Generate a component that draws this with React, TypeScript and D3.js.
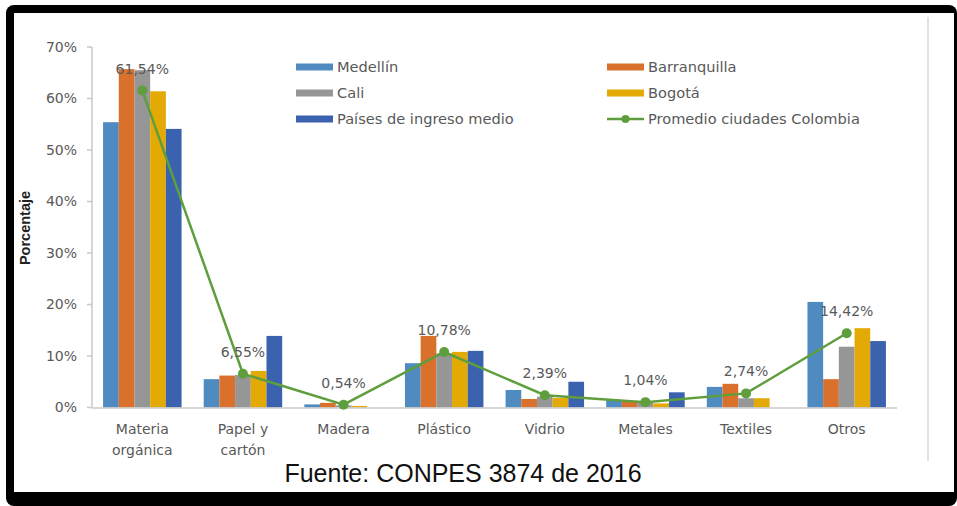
import React, { useEffect, useRef } from "react";
import * as d3 from "d3";

const categories = [
  ["Materia", "orgánica"],
  ["Papel y", "cartón"],
  ["Madera"],
  ["Plástico"],
  ["Vidrio"],
  ["Metales"],
  ["Textiles"],
  ["Otros"],
];

const medellin = [55.4, 5.5, 0.6, 8.6, 3.4, 1.45, 4.0, 20.5];
const barranquilla = [65.7, 6.2, 0.9, 13.9, 1.65, 1.1, 4.6, 5.5];
const cali = [65.5, 6.3, 0.4, 10.5, 2.1, 0.9, 1.8, 11.8];
const bogota = [61.4, 7.1, 0.3, 10.8, 1.85, 0.8, 1.8, 15.4];
const paises = [54.1, 13.9, 0, 11.0, 5.0, 2.95, 0, 12.9];
const promedio = [61.54, 6.55, 0.54, 10.78, 2.39, 1.04, 2.74, 14.42];

const yTicks = [0, 10, 20, 30, 40, 50, 60, 70];

const bars = [
  { name: "Medellín", values: medellin, color: "#4f8bc1" },
  { name: "Barranquilla", values: barranquilla, color: "#d9702b" },
  { name: "Cali", values: cali, color: "#969696" },
  { name: "Bogotá", values: bogota, color: "#e3aa05" },
  { name: "Países de ingreso medio", values: paises, color: "#3b62ae" },
];
const lineName = "Promedio ciudades Colombia";
const lineColor = "#5f9e3c";

const legendOrder = ["Medellín", "Barranquilla", "Cali", "Bogotá", "Países de ingreso medio", lineName];

const App: React.FC = () => {
  const ref = useRef<SVGSVGElement>(null);

  useEffect(() => {
    if (!ref.current) return;
    const svg = d3.select(ref.current);
    svg.selectAll("*").remove();

    const width = 957;
    const height = 506;
    const font = "'DejaVu Sans', sans-serif";
    const textGray = "#595959";

    // frame
    svg.append("rect").attr("width", width).attr("height", height).attr("fill", "#fff");
    svg.append("rect").attr("x", 6).attr("y", 5).attr("width", width - 6).attr("height", height - 5)
      .attr("rx", 8).attr("fill", "#000");
    svg.append("rect").attr("x", 14).attr("y", 13).attr("width", 940).attr("height", 479).attr("fill", "#fff");
    svg.append("line").attr("x1", 928).attr("x2", 928).attr("y1", 17).attr("y2", 461)
      .attr("stroke", "#d9d9d9").attr("stroke-width", 1.5);

    const x0 = d3.scaleBand<number>()
      .domain(d3.range(categories.length))
      .range([92, 897])
      .paddingInner(0.22)
      .paddingOuter(0.11);
    const x1 = d3.scaleBand<number>().domain(d3.range(bars.length)).range([0, x0.bandwidth()]);
    const y = d3.scaleLinear().domain([0, 70]).range([407.5, 47]);

    // y axis
    const yAxis = svg.append("g");
    yAxis.append("line").attr("x1", 92).attr("x2", 92).attr("y1", y(70)).attr("y2", y(0))
      .attr("stroke", "#c8c8c8").attr("stroke-width", 1.5);
    yTicks.forEach((t) => {
      yAxis.append("line").attr("x1", 87).attr("x2", 92).attr("y1", y(t)).attr("y2", y(t))
        .attr("stroke", "#c8c8c8").attr("stroke-width", 1.5);
      yAxis.append("text").attr("x", 77).attr("y", y(t)).attr("dy", "0.35em")
        .attr("text-anchor", "end").attr("font-family", font).attr("font-size", 14)
        .attr("fill", textGray).text(`${t}%`);
    });

    svg.append("text")
      .attr("transform", `translate(30,${228}) rotate(-90)`)
      .attr("text-anchor", "middle").attr("font-family", "'Liberation Sans', Arial, sans-serif")
      .attr("font-size", 14.5).attr("font-weight", "bold").attr("fill", "#222")
      .text("Porcentaje");

    // bars
    bars.forEach((s, si) => {
      svg.append("g").selectAll("rect")
        .data(s.values)
        .enter().append("rect")
        .attr("x", (_d, i) => (x0(i) ?? 0) + (x1(si) ?? 0))
        .attr("y", (d) => y(d))
        .attr("width", x1.bandwidth())
        .attr("height", (d) => y(0) - y(d))
        .attr("fill", s.color);
    });

    // x axis
    svg.append("line").attr("x1", 92).attr("x2", 897).attr("y1", y(0) + 0.5).attr("y2", y(0) + 0.5)
      .attr("stroke", "#c8c8c8").attr("stroke-width", 1.5);
    categories.forEach((lines, i) => {
      const cx = (x0(i) ?? 0) + x0.bandwidth() / 2;
      const t = svg.append("text").attr("text-anchor", "middle").attr("font-family", font)
        .attr("font-size", 14).attr("fill", textGray);
      lines.forEach((l, li) => {
        t.append("tspan").attr("x", cx).attr("y", 434 + li * 21).text(l);
      });
    });

    // line
    const cxOf = (i: number) => (x0(i) ?? 0) + x0.bandwidth() / 2;
    const line = d3.line<number>().x((_d, i) => cxOf(i)).y((d) => y(d));
    svg.append("path").datum(promedio).attr("d", line).attr("fill", "none")
      .attr("stroke", lineColor).attr("stroke-width", 2.5);
    svg.append("g").selectAll("circle").data(promedio).enter().append("circle")
      .attr("cx", (_d, i) => cxOf(i)).attr("cy", (d) => y(d)).attr("r", 5).attr("fill", lineColor);
    svg.append("g").selectAll("text").data(promedio).enter().append("text")
      .attr("x", (_d, i) => cxOf(i)).attr("y", (d) => y(d) - 17)
      .attr("text-anchor", "middle").attr("font-family", font).attr("font-size", 14)
      .attr("fill", textGray)
      .text((d) => `${d.toFixed(2).replace(".", ",")}%`);

    // legend
    const legend = svg.append("g");
    legendOrder.forEach((name, k) => {
      const col = k % 2;
      const row = Math.floor(k / 2);
      const lx = col === 0 ? 296 : 607;
      const ly = 67 + row * 26;
      const bar = bars.find((b) => b.name === name);
      if (bar) {
        legend.append("rect").attr("x", lx).attr("y", ly - 3.5).attr("width", 37).attr("height", 7)
          .attr("fill", bar.color);
      } else {
        legend.append("line").attr("x1", lx).attr("x2", lx + 37).attr("y1", ly).attr("y2", ly)
          .attr("stroke", lineColor).attr("stroke-width", 2.5);
        legend.append("circle").attr("cx", lx + 18.5).attr("cy", ly).attr("r", 4).attr("fill", lineColor);
      }
      legend.append("text").attr("x", lx + 41).attr("y", ly).attr("dy", "0.35em")
        .attr("font-family", font).attr("font-size", 14.6).attr("fill", textGray).text(name);
    });

    svg.append("text").attr("x", 463).attr("y", 482).attr("text-anchor", "middle")
      .attr("font-family", "'Liberation Sans', Arial, sans-serif").attr("font-size", 25)
      .attr("fill", "#111").text("Fuente: CONPES 3874 de 2016");
  }, []);

  return (
    <svg ref={ref} width={957} height={506} style={{ position: "absolute", left: 0, top: 0 }}></svg>
  );
};

export default App;
